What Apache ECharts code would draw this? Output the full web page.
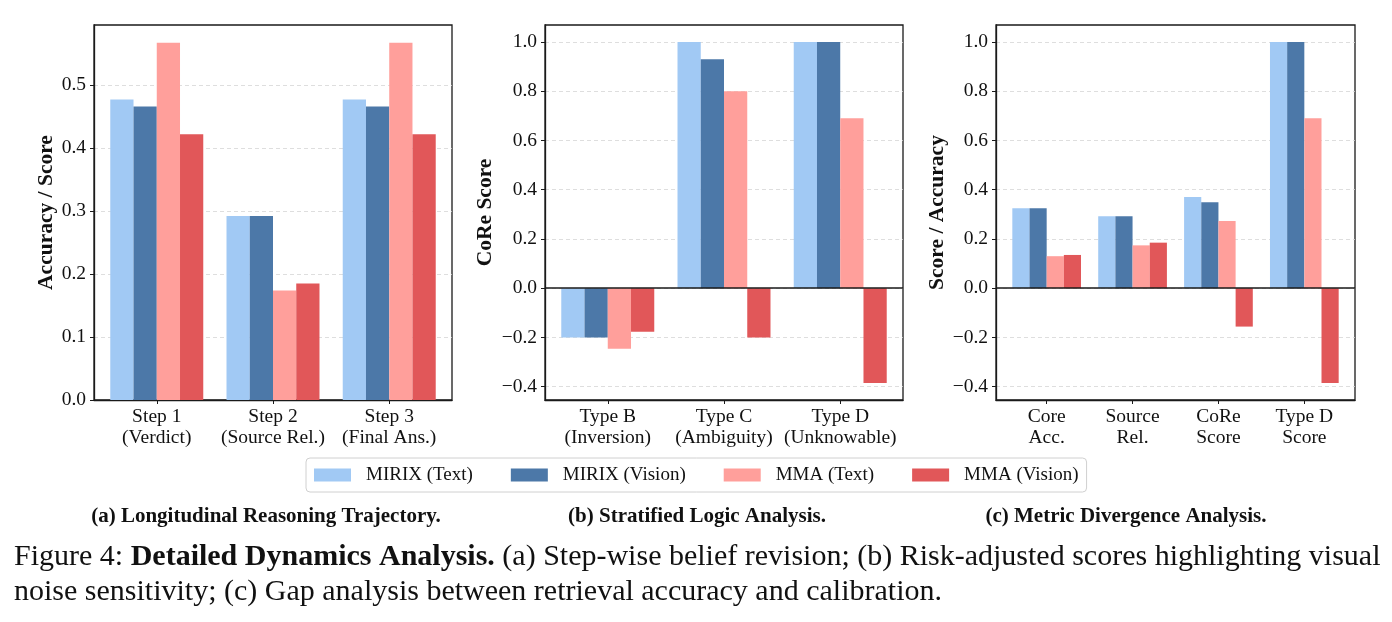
<!DOCTYPE html>
<html>
<head>
<meta charset="utf-8">
<script src="https://cdn.jsdelivr.net/npm/echarts@6/dist/echarts.min.js"></script>
<style>
  html, body { margin: 0; padding: 0; background: #fff; }
  #chart { width: 1392px; height: 622px; }
</style>
</head>
<body>
<div id="chart"></div>
<script>
'use strict';

// category labels for the three panels
const stepCats = ['Step 1\n(Verdict)', 'Step 2\n(Source Rel.)', 'Step 3\n(Final Ans.)'];
const typeCats = ['Type B\n(Inversion)', 'Type C\n(Ambiguity)', 'Type D\n(Unknowable)'];
const metricCats = ['Core\nAcc.', 'Source\nRel.', 'CoRe\nScore', 'Type D\nScore'];
const seriesNames = ['MIRIX (Text)', 'MIRIX (Vision)', 'MMA (Text)', 'MMA (Vision)'];

// (a) longitudinal reasoning trajectory
const mirixTextA = [0.477, 0.292, 0.477];
const mirixVisionA = [0.466, 0.292, 0.466];
const mmaTextA = [0.567, 0.174, 0.567];
const mmaVisionA = [0.422, 0.185, 0.422];

// (b) stratified logic analysis
const mirixTextB = [-0.2, 1.0, 1.0];
const mirixVisionB = [-0.2, 0.93, 1.0];
const mmaTextB = [-0.246, 0.8, 0.69];
const mmaVisionB = [-0.177, -0.2, -0.385];

// (c) metric divergence analysis
const mirixTextC = [0.325, 0.292, 0.37, 1.0];
const mirixVisionC = [0.325, 0.292, 0.349, 1.0];
const mmaTextC = [0.13, 0.174, 0.273, 0.69];
const mmaVisionC = [0.135, 0.185, -0.156, -0.385];

// tick labels
const yTicksA = [0, 0.1, 0.2, 0.3, 0.4, 0.5];
const yTicksBC = [-0.4, -0.2, 0, 0.2, 0.4, 0.6, 0.8, 1.0];

const COLORS = ['#a1c9f4', '#4c78a8', '#ff9f9b', '#e15759'];
const FONT = "'Liberation Serif', 'DejaVu Serif', serif";
const INK = '#111';

const panels = [
  { cats: stepCats, data: [mirixTextA, mirixVisionA, mmaTextA, mmaVisionA], ticks: yTicksA,
    name: 'Accuracy / Score', nameGap: 37, left: 94, width: 358, zeroLine: false },
  { cats: typeCats, data: [mirixTextB, mirixVisionB, mmaTextB, mmaVisionB], ticks: yTicksBC,
    name: 'CoRe Score', nameGap: 49, left: 545, width: 358, zeroLine: true },
  { cats: metricCats, data: [mirixTextC, mirixVisionC, mmaTextC, mmaVisionC], ticks: yTicksBC,
    name: 'Score / Accuracy', nameGap: 48, left: 996, width: 359, zeroLine: true },
];

// matplotlib-like 5% margins, bars sticky at zero
function yRange(data) {
  const all = data.flat();
  const lo = Math.min(0, ...all), hi = Math.max(0, ...all);
  const pad = (hi - lo) * 0.05;
  return [lo < 0 ? lo - pad : 0, hi + pad];
}
function xRange(n) {
  const pad = ((n - 1) + 0.8) * 0.05;
  return [-0.4 - pad, n - 1 + 0.4 + pad];
}
const fmtY = (v) => v.toFixed(1).replace('-', '\u2212');

const grid = [], xAxis = [], yAxis = [], series = [];
panels.forEach((p, i) => {
  const xr = xRange(p.cats.length);
  const yr = yRange(p.data);
  const idx = p.cats.map((c, k) => k);
  const step = p.ticks[1] - p.ticks[0];
  grid.push({ left: p.left, top: 25, width: p.width, height: 375, show: true,
    borderColor: '#1a1a1a', borderWidth: 1.3, backgroundColor: 'transparent' });
  xAxis.push({
    type: 'value', gridIndex: i, min: xr[0], max: xr[1],
    splitLine: { show: false },
    axisLine: { show: true, onZero: false, lineStyle: { color: '#1a1a1a', width: 1.3 } },
    axisTick: { show: true, inside: false, length: 4, customValues: idx, lineStyle: { color: '#1a1a1a', width: 1 } },
    axisLabel: { customValues: idx, formatter: (v) => p.cats[Math.round(v)] || '', fontFamily: FONT,
      fontSize: 19.5, lineHeight: 21, color: INK, margin: 6 },
  });
  yAxis.push({
    type: 'value', gridIndex: i, min: yr[0], max: yr[1],
    splitNumber: Math.round((yr[1] - yr[0]) / step), minInterval: step, maxInterval: step,
    name: p.name, nameLocation: 'middle', nameGap: p.nameGap,
    nameTextStyle: { fontFamily: FONT, fontWeight: 'bold', fontSize: 21.5, color: INK },
    axisLine: { show: true, onZero: false, lineStyle: { color: '#1a1a1a', width: 1.3 } },
    axisTick: { show: true, inside: false, length: 4, customValues: p.ticks, lineStyle: { color: '#1a1a1a', width: 1 } },
    axisLabel: { customValues: p.ticks, formatter: fmtY, fontFamily: FONT, fontSize: 19.5, color: INK, margin: 8 },
    splitLine: { show: true, lineStyle: { type: [4, 3], color: '#d6d6d6', width: 0.8 } },
  });
  p.data.forEach((vals, s) => {
    const item = {
      type: 'bar', name: seriesNames[s], xAxisIndex: i, yAxisIndex: i,
      data: vals.map((v, k) => [k, v]),
      barWidth: '20%', barGap: '0%',
      itemStyle: { color: COLORS[s] },
    };
    if (p.zeroLine && s === 0) {
      item.markLine = { silent: true, symbol: 'none', label: { show: false },
        lineStyle: { color: '#1a1a1a', width: 1.5, type: 'solid' }, data: [{ yAxis: 0 }] };
    }
    series.push(item);
  });
});

const capStyle = { fontFamily: FONT, fontWeight: 'bold', fontSize: 21, color: INK };

const chart = echarts.init(document.getElementById('chart'), null, { renderer: 'canvas' });
chart.setOption({
  animation: false,
  backgroundColor: '#fff',
  color: COLORS,
  grid, xAxis, yAxis, series,
  legend: {
    data: seriesNames, left: 306, top: 458, icon: 'rect',
    itemWidth: 37, itemHeight: 13, itemGap: 38,
    padding: [7, 8, 7, 8],
    borderColor: '#d0d0d0', borderWidth: 1, borderRadius: 4,
    textStyle: { fontFamily: FONT, fontSize: 19, color: INK, lineHeight: 20, padding: [0, 0, 0, 10] },
  },
  title: [
    { text: '(a) Longitudinal Reasoning Trajectory.', left: 261, top: 501, textAlign: 'center', textStyle: capStyle },
    { text: '(b) Stratified Logic Analysis.', left: 692, top: 501, textAlign: 'center', textStyle: capStyle },
    { text: '(c) Metric Divergence Analysis.', left: 1121, top: 501, textAlign: 'center', textStyle: capStyle },
    {
      text: '{n|Figure 4: }{b|Detailed Dynamics Analysis.}{n| (a) Step-wise belief revision; (b) Risk-adjusted scores highlighting visual}\n'
        + '{n|noise sensitivity; (c) Gap analysis between retrieval accuracy and calibration.}',
      left: 9, top: 535,
      textStyle: {
        fontWeight: 'normal',
        rich: {
          n: { fontFamily: FONT, fontSize: 30, fontWeight: 'normal', color: INK, lineHeight: 35 },
          b: { fontFamily: FONT, fontSize: 30, fontWeight: 'bold', color: INK, lineHeight: 35 },
        },
      },
    },
  ],
});
</script>
</body>
</html>
